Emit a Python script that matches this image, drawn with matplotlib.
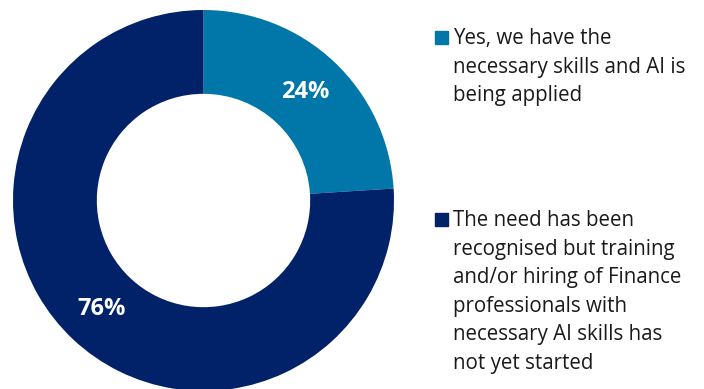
import matplotlib.pyplot as plt
from matplotlib.patches import Rectangle

# survey answers and their shares
answers = [
    "Yes, we have the\nnecessary skills and AI is\nbeing applied",
    "The need has been\nrecognised but training\nand/or hiring of Finance\nprofessionals with\nnecessary AI skills has\nnot yet started",
]
shares = [24, 76]
colours = ["#0077A8", "#012169"]

plt.rcParams["font.family"] = ["Open Sans", "DejaVu Sans"]

W, H = 704, 389
fig = plt.figure(figsize=(W / 100, H / 100), dpi=100)

# donut axes placed in pixel terms: centre (203.5, 200.5), radius 190.5
cx, cy, r = 203.5, 200.5, 190.5
ax = fig.add_axes([(cx - r) / W, (H - cy - r) / H, 2 * r / W, 2 * r / H])
wedges, _, pct = ax.pie(
    shares,
    colors=colours,
    startangle=90,
    counterclock=False,
    radius=1,
    autopct="%d%%",
    pctdistance=0.78,
    wedgeprops=dict(width=0.44, linewidth=0),
    textprops=dict(color="white", fontsize=17, fontweight="bold"),
)
ax.set_xlim(-1, 1)
ax.set_ylim(-1, 1)
ax.set_aspect("equal")
ax.axis("off")

# legend: square marker plus wrapped label
legend_tops = [28, 210]
for top, label, col in zip(legend_tops, answers, colours):
    fig.patches.append(
        Rectangle((435 / W, 1 - (top + 16) / H), 13 / W, 13 / H,
                  transform=fig.transFigure, color=col)
    )
    fig.text(453 / W, 1 - top / H, label, fontsize=14.8, color="#1a1a1a",
             va="top", ha="left", linespacing=1.47)

fig.savefig("out.png", dpi=100)
